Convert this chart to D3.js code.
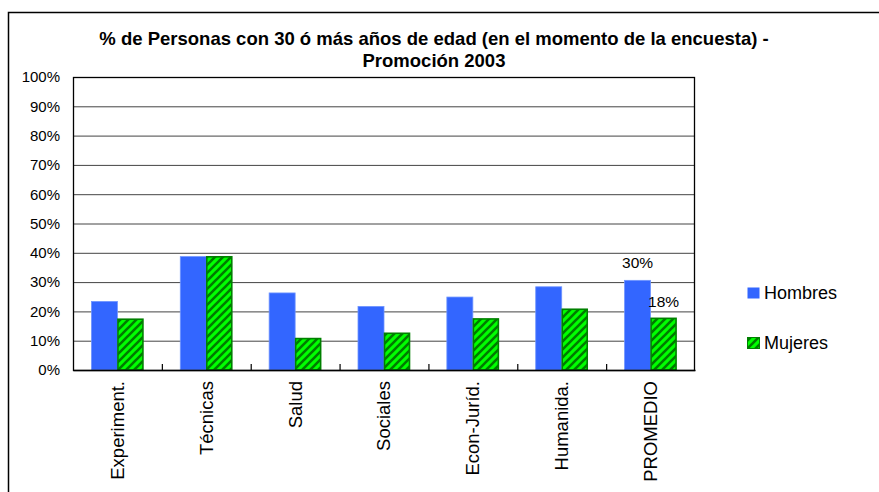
<!DOCTYPE html>
<html><head><meta charset="utf-8">
<script src="https://cdn.jsdelivr.net/npm/d3@7"></script>
<style>body{margin:0;background:#fff}svg{display:block;font-family:"Liberation Sans",Arial,sans-serif}</style>
</head><body>
<svg id="c" width="879" height="492"></svg>
<script>
const categories = ["Experiment.","Técnicas","Salud","Sociales","Econ-Juríd.","Humanida.","PROMEDIO"];
const hombres = [23.4, 38.7, 26.3, 21.7, 24.9, 28.4, 30.6];
const mujeres = [17.5, 38.8, 10.9, 12.7, 17.6, 20.9, 17.8];
const seriesNames = ["Hombres","Mujeres"];
const yTicks = [0,10,20,30,40,50,60,70,80,90,100];
const titleLines = ["% de Personas con 30 ó más años de edad (en el momento de la encuesta) -","Promoción 2003"];
const labelCategory = "PROMEDIO";
const labelTexts = ["30%","18%"];

const svg = d3.select("#c");
const defs = svg.append("defs");
const pat = defs.append("pattern").attr("id","hatch").attr("patternUnits","userSpaceOnUse")
  .attr("width",8).attr("height",8);
pat.append("rect").attr("width",8).attr("height",8).attr("fill","#00ff00");
pat.append("path").attr("d","M-2,2 L2,-2 M0,8 L8,0 M6,10 L10,6").attr("stroke","#007a00").attr("stroke-width",2.6);

// outer frame
svg.append("rect").attr("x",8.5).attr("y",12.5).attr("width",900).attr("height",600)
  .attr("fill","none").attr("stroke","#000").attr("stroke-width",1.5);

const L=73, R=695, T=77, B=370;
const x = d3.scaleBand().domain(categories).range([L,R]).paddingInner(0).paddingOuter(0);
const y = d3.scaleLinear().domain([0,100]).range([B,T]);
const bw = 26;

// gridlines
svg.append("g").selectAll("line").data(yTicks.filter(d=>d>0)).join("line")
  .attr("x1",L).attr("x2",R).attr("y1",d=>y(d)+0.5).attr("y2",d=>y(d)+0.5)
  .attr("stroke","#444").attr("stroke-width",1);

// y axis labels
const ya = svg.append("g").attr("transform",`translate(${L},0)`)
  .call(d3.axisLeft(y).tickValues(yTicks).tickFormat(d=>d+"%").tickSize(0).tickPadding(13));
ya.select(".domain").remove();
ya.selectAll("text").attr("font-size",15).attr("fill","#000").attr("font-family","Liberation Sans, Arial, sans-serif");

// bars
const g = svg.append("g");
categories.forEach((c,i)=>{
  const x0 = x(c) + x.bandwidth()/2 - bw;
  g.append("rect").attr("x",x0).attr("y",y(hombres[i])).attr("width",bw).attr("height",B-y(hombres[i]))
    .attr("fill","#3366ff").attr("stroke","#6f95ff").attr("stroke-width",0.8);
  g.append("rect").attr("x",x0+bw+0.5).attr("y",y(mujeres[i])+0.5).attr("width",bw-1).attr("height",B-y(mujeres[i])-0.5)
    .attr("fill","url(#hatch)").attr("stroke","#008000").attr("stroke-width",1.6);
});

// plot border
svg.append("rect").attr("x",L+0.5).attr("y",T+0.5).attr("width",R-L-1).attr("height",B-T)
  .attr("fill","none").attr("stroke","#000").attr("stroke-width",1.3);

// x axis
const xa = svg.append("g").attr("transform",`translate(0,${B})`)
  .call(d3.axisBottom(x).tickSize(0).tickPadding(0));
xa.select(".domain").attr("stroke","#000").attr("stroke-width",1.5);
xa.selectAll("text").attr("font-size",18.5).attr("fill","#000").attr("font-family","Liberation Sans, Arial, sans-serif")
  .attr("text-anchor","end").attr("transform","rotate(-90)").attr("x",-11).attr("y",0).attr("dy","0.35em");
// inner ticks at category boundaries
svg.append("g").selectAll("line").data(categories.slice(1)).join("line")
  .attr("x1",d=>x(d)+0.5).attr("x2",d=>x(d)+0.5).attr("y1",B-6).attr("y2",B)
  .attr("stroke","#000").attr("stroke-width",1.2);

// data labels
const li = categories.indexOf(labelCategory);
const lx0 = x(labelCategory)+x.bandwidth()/2;
svg.append("text").attr("x",lx0-bw/2).attr("y",y(hombres[li])-12).attr("text-anchor","middle")
  .attr("font-size",15.5).text(labelTexts[0]);
svg.append("text").attr("x",lx0+bw/2).attr("y",y(mujeres[li])-11).attr("text-anchor","middle")
  .attr("font-size",15.5).text(labelTexts[1]);

// title
svg.append("g").selectAll("text").data(titleLines).join("text")
  .attr("x",434).attr("y",(d,i)=>45+i*22).attr("text-anchor","middle")
  .attr("font-size",18.5).attr("font-weight","bold").text(d=>d);

// legend
const leg = svg.append("g");
seriesNames.forEach((s,i)=>{
  const yy = 287 + i*50;
  leg.append("rect").attr("x",747.5).attr("y",yy+0.5).attr("width",12).attr("height",11)
    .attr("fill", i===0 ? "#3366ff" : "url(#hatch)").attr("stroke", i===0 ? "none" : "#008000").attr("stroke-width",1);
  leg.append("text").attr("x",764).attr("y",yy+12).attr("font-size",18).text(s);
});
</script>
</body></html>
